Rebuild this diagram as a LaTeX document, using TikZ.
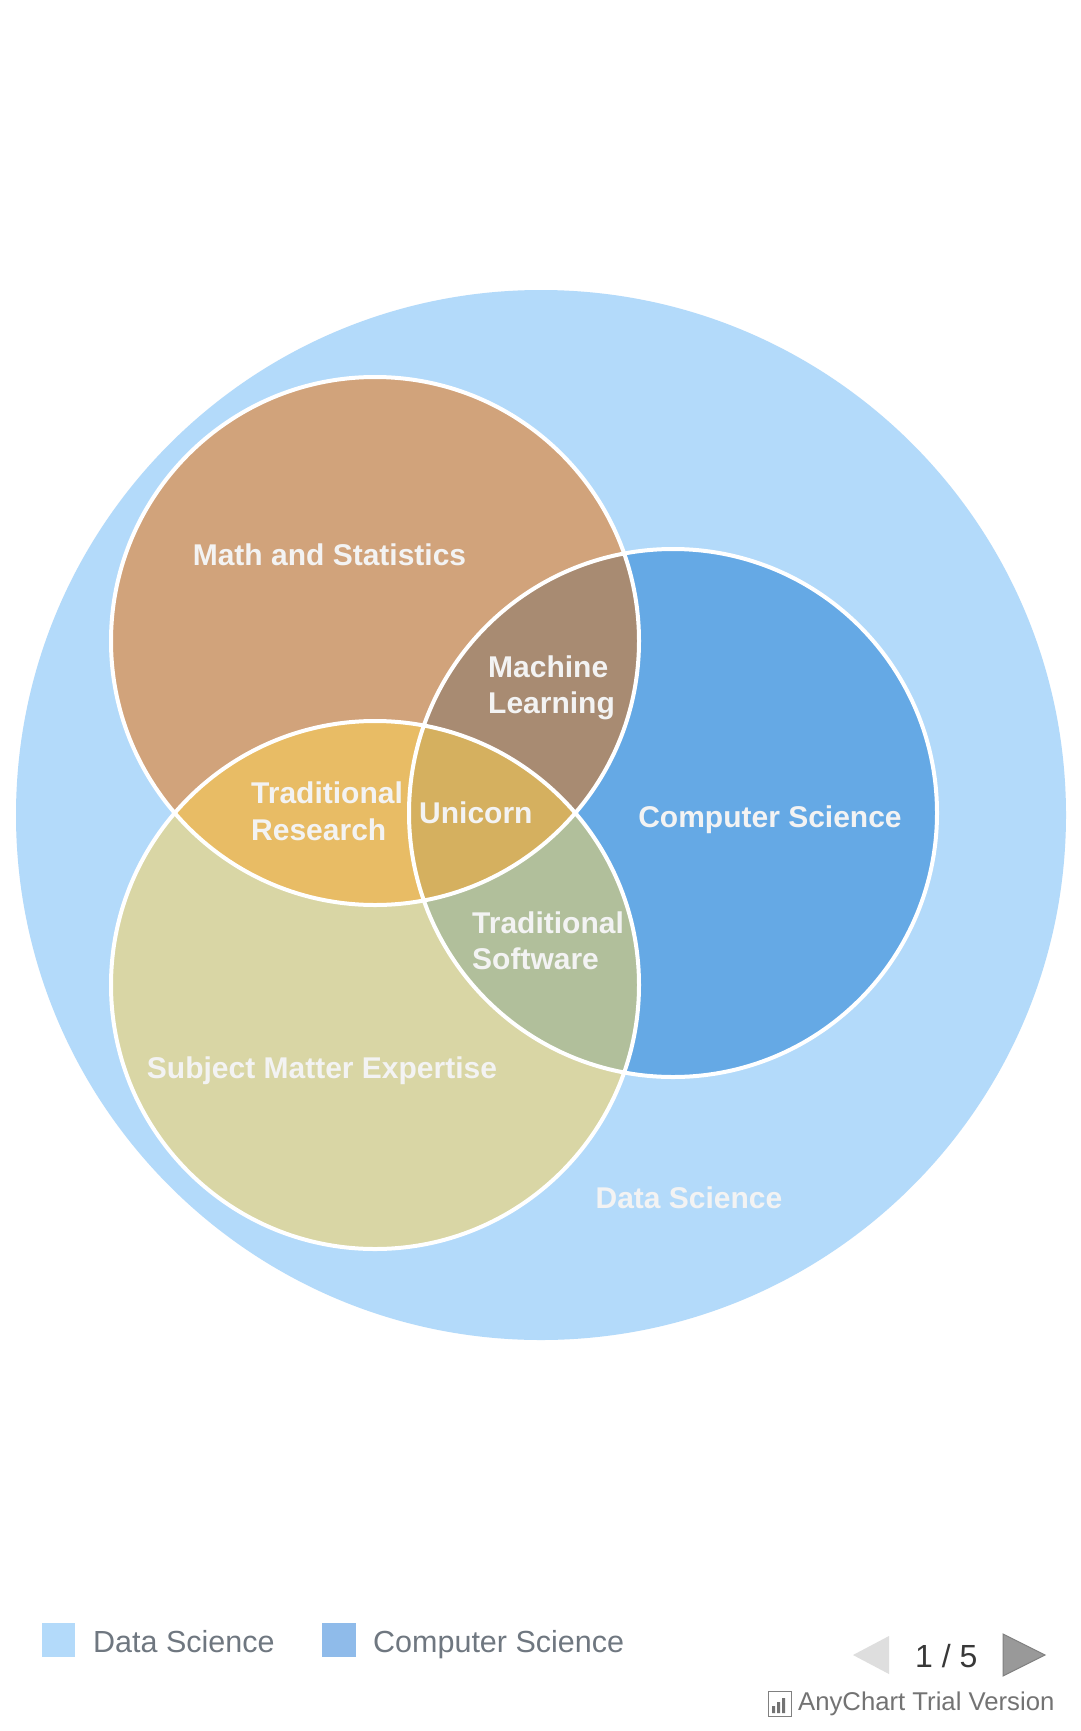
\documentclass[tikz,border=0pt]{standalone}
\usepackage{fontspec}
\setmainfont{Liberation Sans}
\definecolor{dsc}{HTML}{B3DAFA}
\definecolor{mathc}{HTML}{D1A37B}
\definecolor{csc}{HTML}{65A9E5}
\definecolor{smec}{HTML}{D9D6A5}
\definecolor{mlc}{HTML}{A88B72}
\definecolor{trc}{HTML}{E8BC65}
\definecolor{tsc}{HTML}{B1BF9B}
\definecolor{uc}{HTML}{D5B05F}
\definecolor{labelc}{HTML}{F3F3F3}
\definecolor{legtext}{HTML}{6F7780}
\definecolor{legcs}{HTML}{8FBBEA}
\begin{document}
\begin{tikzpicture}[x=1pt,y=-1pt,
  lbl/.style={text=labelc, font=\fontsize{30}{36}\selectfont\bfseries, inner sep=0pt},
  legtxt/.style={text=legtext, font=\fontsize{30.5}{36}\selectfont, inner sep=0pt, anchor=base west},
  outline/.style={draw=white, line width=4pt}]
\useasboundingbox[fill=white] (0,0) rectangle (1080,1731);
\coordinate (big) at (541,815);
\coordinate (M) at (375,641);
\coordinate (C) at (673,813);
\coordinate (S) at (375,985);
\fill[dsc] (big) circle[radius=525pt];
\fill[mathc] (M) circle[radius=264pt];
\fill[csc] (C) circle[radius=264pt];
\fill[smec] (S) circle[radius=264pt];
\begin{scope}
  \clip (C) circle[radius=264pt];
  \fill[tsc] (S) circle[radius=264pt];
\end{scope}
\begin{scope}
  \clip (M) circle[radius=264pt];
  \fill[mlc] (C) circle[radius=264pt];
  \fill[trc] (S) circle[radius=264pt];
  \clip (C) circle[radius=264pt];
  \fill[uc] (S) circle[radius=264pt];
\end{scope}
\draw[outline] (M) circle[radius=264pt];
\draw[outline] (C) circle[radius=264pt];
\draw[outline] (S) circle[radius=264pt];
% labels
\node[lbl, anchor=base] (lmath) at (329.5,565) {Math and Statistics};
\node[lbl, anchor=base] (lcs) at (770,827) {Computer Science};
\node[lbl, anchor=base] (lsme) at (322,1078) {Subject Matter Expertise};
\node[lbl, anchor=base] (lds) at (689,1208) {Data Science};
\node[lbl, anchor=base west] (lml1) at (488,677) {Machine};
\node[lbl, anchor=base west] (lml2) at (488,713) {Learning};
\node[lbl, anchor=base west] (ltr1) at (251,803) {Traditional};
\node[lbl, anchor=base west] (ltr2) at (251,840) {Research};
\node[lbl, anchor=base west] (luni) at (419,823) {Unicorn};
\node[lbl, anchor=base west] (lts1) at (472,933) {Traditional};
\node[lbl, anchor=base west] (lts2) at (472,969) {Software};
% legend
\fill[dsc] (42,1623) rectangle (75,1657);
\node[legtxt] (legds) at (93,1652) {Data Science};
\fill[legcs] (322,1623) rectangle (356,1657);
\node[legtxt] (legcsn) at (373,1652) {Computer Science};
% navigation
\fill[black!13] (889,1636) -- (889,1674) -- (853,1655) -- cycle;
\node[text=black!78, font=\fontsize{32}{36}\selectfont, inner sep=0pt, anchor=base west] (page) at (915,1667) {1 / 5};
\filldraw[fill=black!40, draw=black!50, line width=1pt] (1003,1634) -- (1003,1676) -- (1045,1655) -- cycle;
% credits
\draw[black!50, line width=1pt] (768,1691) rectangle (791,1716);
\fill[black!55] (772,1706) rectangle (775,1713) (777,1702) rectangle (780,1713) (782,1698) rectangle (785,1713);
\node[text=black!55, font=\fontsize{25.7}{30}\selectfont, inner sep=0pt, anchor=base west] (credit) at (798,1710) {AnyChart Trial Version};
\end{tikzpicture}
\end{document}
